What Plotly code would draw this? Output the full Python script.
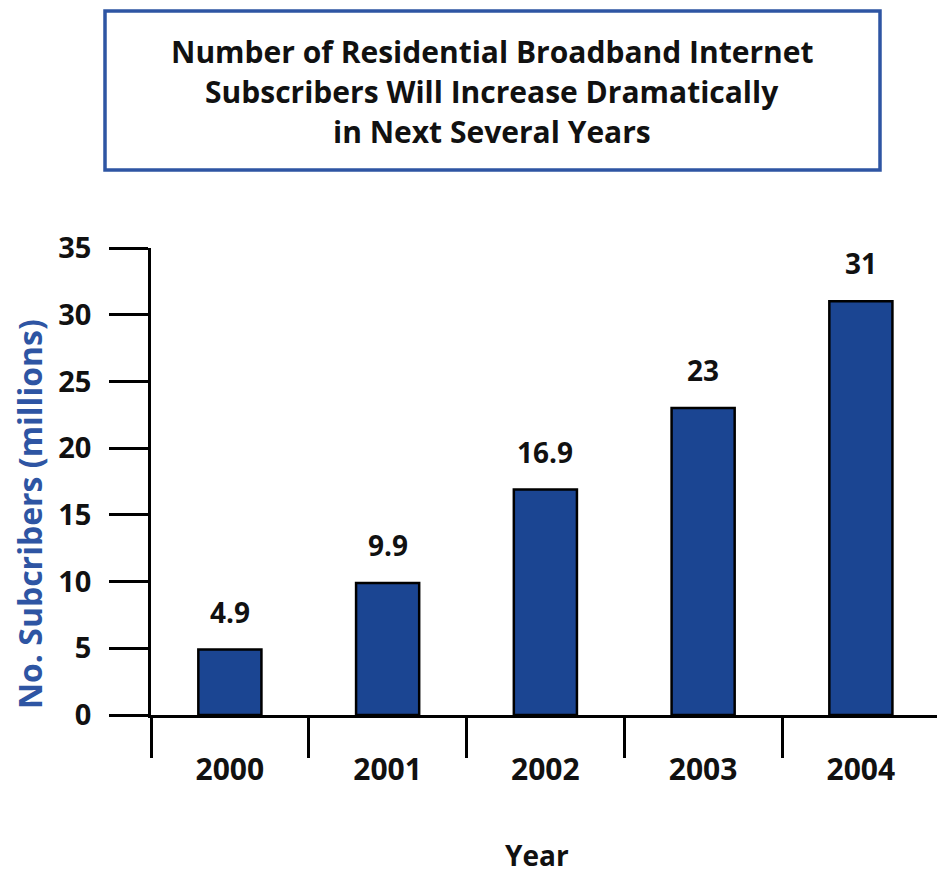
import plotly.graph_objects as go

# Residential broadband subscribers, millions
years = ["2000", "2001", "2002", "2003", "2004"]
subscribers = [4.9, 9.9, 16.9, 23, 31]
y_ticks = [0, 5, 10, 15, 20, 25, 30, 35]
title_lines = [
    "Number of Residential Broadband Internet",
    "Subscribers Will Increase Dramatically",
    "in Next Several Years",
]

FONT = "Open Sans"
BAR_BLUE = "#1b4592"
TEXT_BLUE = "#2e55a3"

W, H = 937, 876
L, R, T, B = 151, 0, 248, 161
pw, ph = W - L - R, H - T - B


def px_x(p):
    return (p - L) / pw


def px_y(p):
    return (H - B - p) / ph


xpos = list(range(len(years)))

fig = go.Figure(
    go.Bar(
        x=xpos,
        y=subscribers,
        width=0.4,
        marker=dict(color=BAR_BLUE, line=dict(color="black", width=2.5)),
        hoverinfo="skip",
    )
)

annotations = []
for xi, v in zip(xpos, subscribers):
    annotations.append(dict(
        x=xi, y=v, xref="x", yref="y", text=f"{v:g}", showarrow=False,
        yshift=38, font=dict(family=FONT, size=28, color="#111", weight="bold"),
    ))

for line, yc in zip(title_lines, [52, 92, 132]):
    annotations.append(dict(
        x=px_x(492), y=px_y(yc), xref="paper", yref="paper", text=line,
        showarrow=False, xanchor="center", yanchor="middle",
        font=dict(family=FONT, size=30, color="#111", weight="bold"),
    ))

annotations.append(dict(
    x=px_x(29), y=px_y(514), xref="paper", yref="paper",
    text="No. Subcribers (millions)", textangle=-90, showarrow=False,
    xanchor="center", yanchor="middle",
    font=dict(family=FONT, size=32, color=TEXT_BLUE, weight="bold"),
))
annotations.append(dict(
    x=px_x(537), y=px_y(855), xref="paper", yref="paper", text="Year",
    showarrow=False, xanchor="center", yanchor="middle",
    font=dict(family=FONT, size=28, color="#111", weight="bold"),
))

fig.update_layout(
    width=W, height=H,
    margin=dict(l=L, r=R, t=T, b=B, pad=0),
    paper_bgcolor="white", plot_bgcolor="white",
    showlegend=False,
    annotations=annotations,
    shapes=[dict(
        type="rect", xref="paper", yref="paper",
        x0=px_x(105), x1=px_x(880), y0=px_y(170), y1=px_y(11),
        line=dict(color=TEXT_BLUE, width=3.5), fillcolor="rgba(0,0,0,0)",
    )],
    xaxis=dict(
        range=[-0.5, (W - R - L) / ((859 - 228) / 4) - 0.5],
        tickmode="array", tickvals=xpos, ticktext=years,
        ticks="", ticklabelstandoff=26,
        tickfont=dict(family=FONT, size=30, color="#111", weight="bold"),
        showline=True, linecolor="black", linewidth=2.5,
        showgrid=False, zeroline=False,
        minor=dict(tickmode="linear", tick0=-0.5, dtick=1, ticks="outside",
                   ticklen=40, tickwidth=2.5, tickcolor="black", showgrid=False),
        fixedrange=True,
    ),
    yaxis=dict(
        range=[0, 35], tickmode="array", tickvals=y_ticks,
        ticks="outside", ticklen=39, tickwidth=2.5, tickcolor="black",
        ticklabelstandoff=12,
        tickfont=dict(family=FONT, size=29, color="#111", weight="bold"),
        showline=True, linecolor="black", linewidth=2.5,
        showgrid=False, zeroline=False, fixedrange=True,
    ),
)

fig.write_html("out.html", config={"displayModeBar": False})
